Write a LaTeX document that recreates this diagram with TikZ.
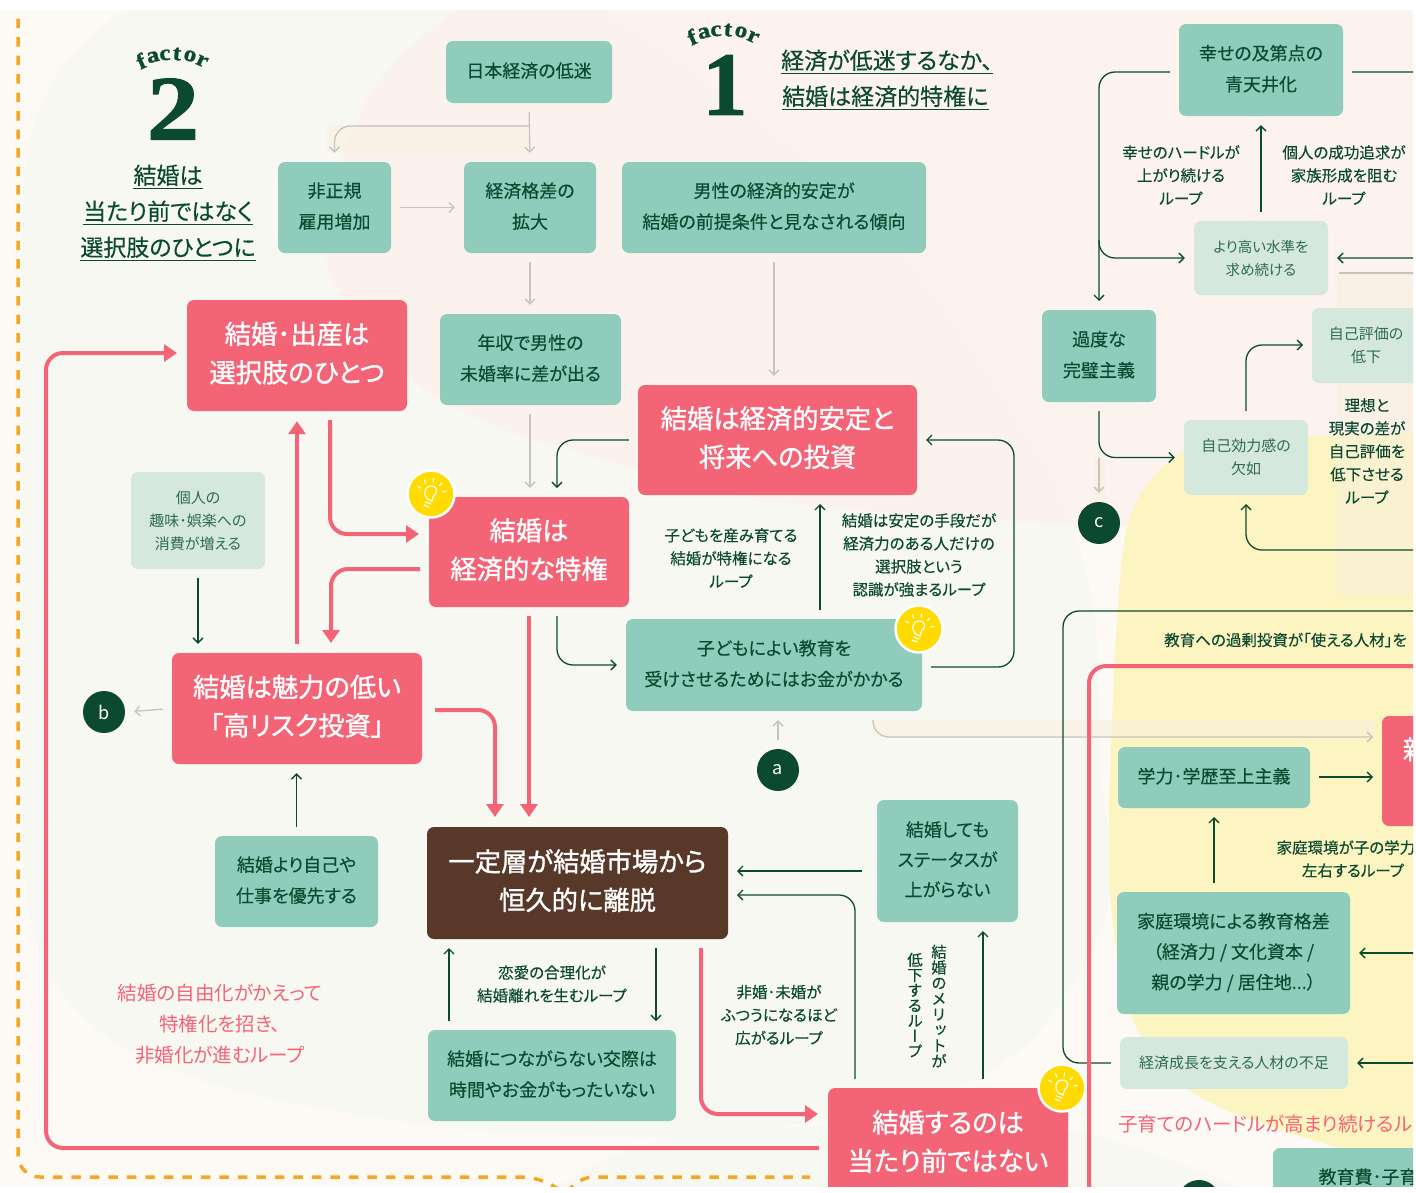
\documentclass[tikz,border=0pt]{standalone}
\usepackage{fontspec}
\setmainfont[RawFeature={+palt}]{Noto Sans CJK JP}
\newfontfamily\medfont[RawFeature={+palt},FakeBold=0.25]{Noto Sans CJK JP}
\newfontfamily\headfont[RawFeature={+palt},FakeBold=1.1]{Noto Sans CJK JP}
\newfontfamily\vertfont[RawFeature={+vert},FakeBold=0.25]{Noto Sans CJK JP}
\newfontfamily\factorfont[BoldFeatures={FakeStretch=1.14,FakeBold=1.2}]{Liberation Serif}
\newfontfamily\onefont[BoldFeatures={FakeBold=1.2}]{Liberation Serif}
\usetikzlibrary{arrows.meta,calc}
\definecolor{creamc}{HTML}{FDFAF5}
\definecolor{grayblob}{HTML}{F8F8F3}
\definecolor{pinkblob}{HTML}{FCF2EE}
\definecolor{yellowblob}{HTML}{FDF5C1}
\definecolor{tealc}{HTML}{8FCCBB}
\definecolor{palec}{HTML}{D5E8DD}
\definecolor{redc}{HTML}{F36476}
\definecolor{brownc}{HTML}{573829}
\definecolor{darkg}{HTML}{0B4A30}
\definecolor{softg}{HTML}{2F6B53}
\definecolor{fadec}{HTML}{C8C3BC}
\definecolor{orangec}{HTML}{F5A623}
\definecolor{bulbc}{HTML}{FFDB00}
\definecolor{bandc}{HTML}{F9EFDF}
\begin{document}
\begin{tikzpicture}[x=1pt,y=-1pt,
  tealbox/.style={rectangle,rounded corners=7pt,fill=tealc,text=darkg,align=center,inner sep=0pt,text depth=4.2pt,font=\fontsize{18}{31}\medfont},
  palebox/.style={rectangle,rounded corners=7pt,fill=palec,text=softg,align=center,inner sep=0pt,font=\fontsize{15}{23}\selectfont},
  redbox/.style={rectangle,rounded corners=7pt,fill=redc,text=white,align=center,inner sep=0pt,text depth=7pt,font=\fontsize{26.3}{38.5}\headfont},
  looplabel/.style={text=darkg,align=center,inner sep=0pt,font=\fontsize{15.5}{23}\medfont},
  redlabel/.style={text=redc,align=center,inner sep=0pt,font=\fontsize{19.5}{31}\selectfont},
  titletext/.style={text=darkg,inner sep=0pt,text depth=4.5pt,font=\fontsize{23}{26}\medfont},
  titleline/.style={darkg,line width=1.2pt},
  markc/.style={circle,fill=darkg,text=white,inner sep=0pt,minimum size=42pt,font=\fontsize{18}{20}\selectfont},
  greenarrow/.style={darkg,line width=1.3pt,rounded corners=16pt,shorten <=9pt,shorten >=9pt,-{Straight Barb[length=5pt,width=10pt]}},
  greenline/.style={darkg,line width=1.3pt,rounded corners=16pt},
  fadearrow/.style={fadec,line width=1.3pt,rounded corners=16pt,shorten <=9pt,shorten >=9pt,-{Straight Barb[length=5pt,width=10pt]}},
  redarrow/.style={redc,line width=4pt,rounded corners=17pt,shorten <=9pt,shorten >=10pt,-{Triangle[length=13pt,width=17pt]}},
  bulb/.pic={
    \node[circle,fill=bulbc,draw=white,line width=2.5pt,minimum size=47pt,inner sep=0pt] (-mark) at (0,0) {};
    \draw[white,line width=1.2pt,line cap=round] (-3.5,5) .. controls (-8,1) and (-7,-8) .. (0,-8) .. controls (7,-8) and (7,-1) .. (2.5,2) -- (1,7) -- cycle;
    \draw[white,line width=1.2pt,line cap=round] (-5.5,8) -- (0,10) (-7,11) -- (-2,13);
    \foreach \a in {-150,-115,-80,-45,-10} \draw[white,line width=1.2pt,line cap=round] (\a:12) -- (\a:15.5);
  }]
  \useasboundingbox (0,0) rectangle (1416,1192);
  \clip (0,10) rectangle (1413,1186);
  \fill[creamc] (0,0) rectangle (1416,1192);
  \fill[grayblob] plot[smooth] coordinates {(130,5) (60,70) (24,180) (21,500) (27,900) (90,1023) (223,1087) (446,1127) (680,1137) (830,1118) (957,1087) (1040,1030) (1109,905) (1100,760) (1095,620) (1070,520) (1030,440) (900,250) (770,130) (670,55) (590,5)} -- cycle;
  \fill[grayblob] plot[smooth] coordinates {(540,1195) (630,1150) (720,1132) (900,1124) (1090,1135) (1260,1195)} -- cycle;
  \fill[pinkblob,opacity=.85] plot[smooth] coordinates {(460,5) (372,90) (322,240) (370,340) (440,400) (535,440) (767,500) (1040,523) (1200,525) (1420,500)} -- (1420,5) -- cycle;
  \fill[yellowblob] plot[smooth] coordinates {(1420,433) (1265,439) (1178,455) (1131,514) (1117,620) (1109,867) (1131,1016) (1198,1096) (1332,1146) (1420,1162)} -- cycle;
  \fill[bandc,opacity=.5] (1337,273) rectangle (1413,595);
  \fill[bandc,opacity=.6] (327,125) rectangle (530,152);
  \fill[bandc,opacity=.6] (873,720) rectangle (1375,737);
  \fill[bandc,opacity=.6] (1094,458) rectangle (1105,497);

  \draw[orangec,line width=3.5pt,dash pattern=on 9.5pt off 9pt,rounded corners=22pt] (18,0) -- (18,1177) -- (545,1177) -- (562,1192);
  \draw[orangec,line width=3.5pt,dash pattern=on 9.5pt off 9pt,rounded corners=10pt] (566,1192) -- (583,1177) -- (810,1177);

  \node[tealbox,minimum width=166pt,minimum height=62pt] (low) at (529,72) {日本経済の低迷};
  \node[tealbox,minimum width=113pt,minimum height=91pt] (hiseiki) at (334.5,207.5) {非正規\\雇用増加};
  \node[tealbox,minimum width=132pt,minimum height=91pt] (gap) at (530,207.5) {経済格差の\\拡大};
  \node[tealbox,minimum width=304pt,minimum height=91pt] (dansei) at (774,207.5) {男性の経済的安定が\\結婚の前提条件と見なされる傾向};
  \node[tealbox,minimum width=181pt,minimum height=91pt] (nenshu) at (530.5,359.5) {年収で男性の\\未婚率に差が出る};
  \node[tealbox,minimum width=296pt,minimum height=92pt] (kyoiku) at (774,665) {子どもによい教育を\\受けさせるためにはお金がかかる};
  \node[tealbox,minimum width=163pt,minimum height=91pt] (yusen) at (296.5,881.5) {結婚より自己や\\仕事を優先する};
  \node[tealbox,minimum width=248pt,minimum height=91pt] (kosai) at (552,1075.5) {結婚につながらない交際は\\時間やお金がもったいない};
  \node[tealbox,minimum width=141pt,minimum height=122pt,font=\fontsize{18}{30}\medfont] (status) at (947.5,861) {結婚しても\\ステータスが\\上がらない};
  \node[tealbox,minimum width=164pt,minimum height=92pt] (kyudai) at (1261,70) {幸せの及第点の\\青天井化};
  \node[tealbox,minimum width=114pt,minimum height=92pt] (kanpeki) at (1099,356) {過度な\\完璧主義};
  \node[tealbox,minimum width=192pt,minimum height=61pt] (gakureki) at (1214,777.5) {学力･学歴至上主義};
  \node[tealbox,minimum width=233pt,minimum height=122pt,font=\fontsize{18}{30.5}\medfont] (katei) at (1233.5,953) {家庭環境による教育格差\\（経済力 / 文化資本 /\\親の学力 / 居住地...）};
  \node[tealbox,minimum width=190pt,minimum height=60pt] (kyoikuhi) at (1368,1178) {教育費･子育};

  \node[palebox,minimum width=134pt,minimum height=97pt] (shumi) at (198,520.5) {個人の\\趣味･娯楽への\\消費が増える};
  \node[palebox,minimum width=134pt,minimum height=74pt,font=\fontsize{14.5}{23}\selectfont] (motomeru) at (1261,258) {より高い水準を\\求め続ける};
  \node[palebox,minimum width=108pt,minimum height=75pt] (hyoka) at (1366,345.5) {自己評価の\\低下};
  \node[palebox,minimum width=124pt,minimum height=75pt] (koryoku) at (1246,457.5) {自己効力感の\\欠如};
  \node[palebox,minimum width=228pt,minimum height=52pt] (jinzai) at (1234,1063) {経済成長を支える人材の不足};

  \node[redbox,minimum width=220pt,minimum height=111pt] (sentaku) at (297,355.5) {結婚･出産は\\選択肢のひとつ};
  \node[redbox,minimum width=279pt,minimum height=110pt] (antei) at (777.5,440) {結婚は経済的安定と\\将来への投資};
  \node[redbox,minimum width=200pt,minimum height=110pt] (tokken) at (529,552) {結婚は\\経済的な特権};
  \node[redbox,minimum width=250pt,minimum height=111pt] (risk) at (297,708.5) {結婚は魅力の低い\\「高リスク投資」};
  \node[redbox,minimum width=240pt,minimum height=112pt] (atarimae) at (948,1144) {結婚するのは\\当たり前ではない};
  \node[redbox,minimum width=68pt,minimum height=110pt] (oya) at (1416,771) {親\\\phantom{親}};
  \node[redbox,fill=brownc,minimum width=301pt,minimum height=112pt] (ridatsu) at (577.5,883) {一定層が結婚市場から\\恒久的に離脱};

  \node[markc] (mb) at (104,712) {b};
  \node[markc] (ma) at (778,770) {a};
  \node[markc] (mc) at (1099,523) {c};
  \node[markc] (md) at (1199,1201) {};

  \pic (bulba) at (431,494) {bulb};
  \pic (bulbb) at (919,629) {bulb};
  \pic (bulbc) at (1062,1088) {bulb};

  \foreach \cx/\cy in {171/58,722/34}
    \foreach \ch/\dx/\dy/\ang in {f/-30/3/24,a/-18/-1/14,c/-6/-3/4,t/6/-4/-5,o/19/-2/-14,r/31/3/-24}
      \node[text=darkg,inner sep=0pt,rotate=\ang,font=\fontsize{22}{24}\factorfont\bfseries] at (\cx+\dx,\cy+\dy) {\ch};
  \node[text=darkg,inner sep=0pt,font=\fontsize{92}{92}\factorfont\bfseries] (numtwo) at (173,109) {2};
  \node[text=darkg,inner sep=0pt,font=\fontsize{90}{92}\onefont\bfseries] (numone) at (725,85) {1};

  \node[titletext,anchor=base] (ta) at (168,184) {結婚は};
  \node[titletext,anchor=base] (tb) at (168,220) {当たり前ではなく};
  \node[titletext,anchor=base] (tc) at (168,256) {選択肢のひとつに};
  \node[titletext,anchor=base west] (td) at (781,69) {経済が低迷するなか、};
  \node[titletext,anchor=base west] (te) at (782,105) {結婚は経済的特権に};
  \foreach \t in {ta,tb,tc,td,te}
    \draw[titleline] (\t.south west) -- (\t.south east);

  \node[looplabel] (la) at (1181,175) {幸せのハードルが\\上がり続ける\\ループ};
  \node[looplabel] (lb) at (1344,175) {個人の成功追求が\\家族形成を阻む\\ループ};
  \node[looplabel] (lc) at (1367,451) {理想と\\現実の差が\\自己評価を\\低下させる\\ループ};
  \node[looplabel,anchor=west] (ld) at (1164,640) {教育への過剰投資が「使える人材」を};
  \node[looplabel] (le) at (1353,859) {家庭環境が子の学力を\\左右するループ};
  \node[looplabel] (lf) at (731,558) {子どもを産み育てる\\結婚が特権になる\\ループ};
  \node[looplabel] (lg) at (919,555) {結婚は安定の手段だが\\経済力のある人だけの\\選択肢という\\認識が強まるループ};
  \node[looplabel] (lh) at (552,984) {恋愛の合理化が\\結婚離れを生むループ};
  \node[looplabel] (li) at (779,1015) {非婚･未婚が\\ふつうになるほど\\広がるループ};
  \node[looplabel,font=\fontsize{15.5}{15.6}\vertfont] (lj) at (939,1006) {結\\婚\\の\\メ\\リ\\ッ\\ト\\が};
  \node[looplabel,font=\fontsize{15.5}{15.2}\vertfont] (lk) at (915,1005) {低\\下\\す\\る\\ル\\ー\\プ};
  \node[redlabel] (rl) at (220,1024) {結婚の自由化がかえって\\特権化を招き、\\非婚化が進むループ};
  \node[redlabel,anchor=west] (rm) at (1118,1124) {子育てのハードルが高まり続けるループ};

  \coordinate (bra) at (529,126);
  \coordinate (kyb) at (873,711);
  \coordinate (oyb) at (1382,737);
  \coordinate (cst) at (1099,449);
  \coordinate (rgl) at (1339,273);
  \coordinate (rgh) at (1420,273);
  \draw[fadearrow] (low.south) -- (gap.north);
  \draw[fadearrow,shorten <=0pt] (bra) -| (hiseiki.north);
  \draw[fadearrow] (hiseiki.east) -- (gap.west);
  \draw[fadearrow] (gap.south) -- (gap.south |- nenshu.north);
  \draw[fadearrow] (gap.south |- nenshu.south) -- (gap.south |- tokken.north);
  \draw[fadearrow] (dansei.south) -- (dansei.south |- antei.north);
  \draw[fadearrow] (cst) -- (mc.north);
  \draw[fadearrow] (ma.north) -- (kyoiku.south -| ma.north);
  \draw[fadearrow] (risk.west) -- (mb.east);
  \draw[fadearrow] (kyb) |- (oyb);
  \draw[fadec,line width=1.3pt] (rgl) -- (rgh);

  \coordinate (tkt) at (557,497);
  \coordinate (tkb) at (557,607);
  \coordinate (kyt) at (820,619);
  \coordinate (anb) at (820,495);
  \coordinate (kye) at (922,667);
  \coordinate (ane) at (917,440);
  \coordinate (rdt) at (855,1088);
  \coordinate (rde) at (983,1088);
  \coordinate (brb) at (728,895);
  \coordinate (brc) at (728,871);
  \coordinate (bra1) at (449,939);
  \coordinate (kos1) at (449,1030);
  \coordinate (bra2) at (656,939);
  \coordinate (kos2) at (656,1030);
  \coordinate (sta) at (983,922);
  \draw[greenarrow] (antei.west) -| (tkt);
  \draw[greenarrow] (tkb) |- (kyoiku.west);
  \draw[greenarrow] (kyt) -- (anb);
  \draw[greenarrow] (kye) -- (1014,667) -- (1014,440) -- (ane);
  \draw[greenarrow] (shumi.south) -- (shumi.south |- risk.north);
  \draw[greenarrow] (yusen.north) -- (risk.south -| yusen.north);
  \draw[greenarrow] (kos1) -- (bra1);
  \draw[greenarrow] (bra2) -- (kos2);
  \draw[greenarrow,shorten <=15pt] (status.west |- brc) -- (brc);
  \draw[greenarrow] (rdt) |- (brb);
  \draw[greenarrow] (rde) -- (sta);

  \coordinate (kyl) at (1179,72);
  \coordinate (kyr) at (1343,72);
  \coordinate (mob) at (1099,240);
  \coordinate (kpt) at (1099,310);
  \coordinate (krt) at (1246,420);
  \coordinate (kol) at (1246,495);
  \coordinate (rgt) at (1440,550);
  \coordinate (hyl) at (1312,345);
  \coordinate (gak) at (1382,777);
  \coordinate (gkb) at (1214,808);
  \coordinate (ktt) at (1214,892);
  \coordinate (kte) at (1440,953);
  \coordinate (jne) at (1440,1063);
  \coordinate (kyt2) at (1420,611);
  \draw[greenarrow] (kyl) -| (kpt);
  \draw[greenarrow,shorten <=0pt] (mob) |- (motomeru.west);
  \draw[greenarrow] (motomeru.north) -- (kyudai.south);
  \draw[greenarrow] (kyr) -- (1432,72) -- (1432,258) -- (motomeru.east);
  \draw[greenarrow] (kanpeki.south) |- (koryoku.west);
  \draw[greenarrow] (krt) |- (hyl);
  \draw[greenarrow,shorten <=0pt] (rgt) -| (kol);
  \draw[greenarrow] (gakureki.east |- gak) -- (gak);
  \draw[greenarrow] (ktt) -- (gkb);
  \draw[greenarrow,shorten <=0pt] (kte) -- (katei.east);
  \draw[greenarrow,shorten <=0pt] (jne) -- (jinzai.east);
  \draw[greenline,shorten <=9pt] (jinzai.west) -- (1063,1063) -- (1063,611) -- (kyt2);

  \coordinate (sen1) at (330,411);
  \coordinate (tok1) at (429,534);
  \coordinate (tok2) at (429,569);
  \coordinate (ris1) at (331,653);
  \coordinate (ris2) at (422,710);
  \coordinate (rid1) at (495,827);
  \coordinate (rid2) at (529,827);
  \coordinate (rid3) at (701,939);
  \coordinate (ata1) at (828,1114);
  \coordinate (ata2) at (828,1148);
  \coordinate (sen2) at (187,353);
  \draw[redarrow] (sen1) |- (tok1);
  \draw[redarrow] (tok2) -| (ris1);
  \draw[redarrow] (risk.north) -- (sentaku.south);
  \draw[redarrow,shorten <=13pt] (ris2) -| (rid1);
  \draw[redarrow] (tokken.south) -- (rid2);
  \draw[redarrow] (rid3) |- (ata1);
  \draw[redarrow] (ata2) -- (46,1148) -- (46,353) -- (sen2);
  \draw[redc,line width=4pt,rounded corners=17pt] (1089,1190) -- (1089,666) -- (1420,666);
\end{tikzpicture}
\end{document}
